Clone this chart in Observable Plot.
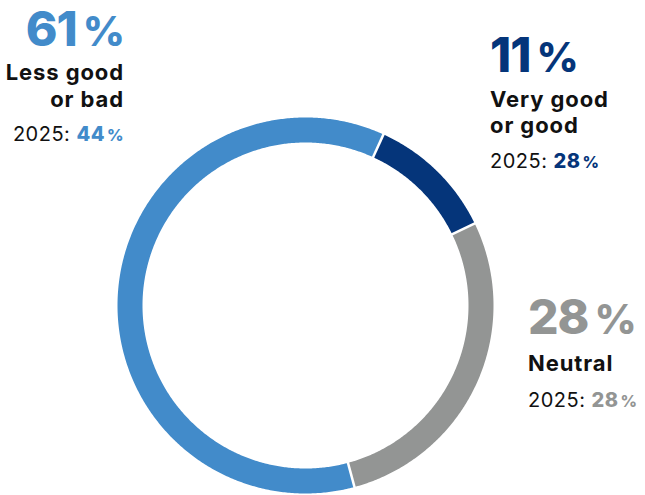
<!DOCTYPE html>
<html>
<head>
<meta charset="utf-8">
<script src="https://cdn.jsdelivr.net/npm/d3@7"></script>
<script src="https://cdn.jsdelivr.net/npm/@observablehq/plot@0.6"></script>
<style>
  html, body { margin: 0; padding: 0; background: #fff; }
</style>
</head>
<body>
<div id="chart"></div>
<script>
// ---- data ----
const categories = ["Very good or good", "Neutral", "Less good or bad"];
const labelLines = [["Very good", "or good"], ["Neutral"], ["Less good", "or bad"]];
const values = [11, 28, 61];
const values2025 = [28, 28, 44];
const prevYear = "2025";
const colors = ["#05357a", "#939594", "#428bca"];

// ---- layout (chart coordinates, centre of ring at 0,0, y down) ----
const FONT = "Inter, 'Noto Sans', sans-serif";
const startAngle = 24.5;      // degrees clockwise from 12 o'clock
const rMid = 175.5, ringWidth = 25;
const labelLayout = [
  {x: 185, anchor: "start", big: -233, lines: [-198, -172], prev: -137},
  {x: 223, anchor: "start", big: 29, lines: [66], prev: 102},
  {x: -181, anchor: "end", big: -259, lines: [-225, -198], prev: -164}
];

// ---- derived ring geometry ----
const total = d3.sum(values);
const cum = d3.cumsum(values);
const segs = categories.map((c, i) => ({
  category: c, color: colors[i],
  a0: startAngle + (cum[i] - values[i]) / total * 360,
  a1: startAngle + cum[i] / total * 360
}));
const ringPts = [];
segs.forEach(s => {
  const n = Math.max(2, Math.ceil((s.a1 - s.a0) / 0.5));
  for (let k = 0; k <= n; k++) {
    const a = (s.a0 + (s.a1 - s.a0) * k / n) * Math.PI / 180;
    ringPts.push({category: s.category, color: s.color, x: rMid * Math.sin(a), y: -rMid * Math.cos(a)});
  }
});
const rIn = rMid - ringWidth / 2 - 2, rOut = rMid + ringWidth / 2 + 2;
const seps = segs.map(s => {
  const a = s.a0 * Math.PI / 180;
  return {x1: rIn * Math.sin(a), y1: -rIn * Math.cos(a), x2: rOut * Math.sin(a), y2: -rOut * Math.cos(a)};
});

function labelsMark(index, scales) {
  const g = d3.create("svg:g").attr("font-family", FONT);
  labelLayout.forEach((L, i) => {
    const x = scales.x(L.x);
    const big = g.append("text")
      .attr("x", x).attr("y", scales.y(L.big))
      .attr("text-anchor", L.anchor)
      .attr("fill", colors[i]).attr("font-weight", 800)
      .attr("font-size", 48).attr("letter-spacing", -1);
    big.append("tspan").text(values[i]);
    big.append("tspan").attr("dx", 6).attr("font-size", 41).text("%");
    labelLines[i].forEach((line, j) => {
      g.append("text")
        .attr("x", x).attr("y", scales.y(L.lines[j]))
        .attr("text-anchor", L.anchor)
        .attr("fill", "#111").attr("font-weight", 700)
        .attr("font-size", 22).attr("letter-spacing", 0.9)
        .text(line);
    });
    const p = g.append("text")
      .attr("x", x).attr("y", scales.y(L.prev))
      .attr("text-anchor", L.anchor)
      .attr("font-size", 20).attr("fill", "#111").attr("letter-spacing", 0.5);
    p.append("tspan").text(prevYear + ": ");
    p.append("tspan").attr("fill", colors[i]).attr("font-weight", 800).text(values2025[i]);
    p.append("tspan").attr("fill", colors[i]).attr("font-weight", 800).attr("font-size", 16).attr("dx", 2).text("%");
  });
  return g.node();
}

const chart = Plot.plot({
  width: 645,
  height: 495,
  margin: 0,
  style: {background: "#fff", fontFamily: FONT},
  x: {domain: [-305, 340], range: [0, 645], axis: null},
  y: {domain: [-305, 190], range: [0, 495], axis: null},
  marks: [
    Plot.line(ringPts, {
      x: "x", y: "y", z: "category", stroke: "color",
      strokeWidth: ringWidth, strokeLinecap: "butt", strokeLinejoin: "round"
    }),
    Plot.link(seps, {x1: "x1", y1: "y1", x2: "x2", y2: "y2", stroke: "#fff", strokeWidth: 2.5}),
    labelsMark
  ]
});
document.getElementById("chart").appendChild(chart);
</script>
</body>
</html>
